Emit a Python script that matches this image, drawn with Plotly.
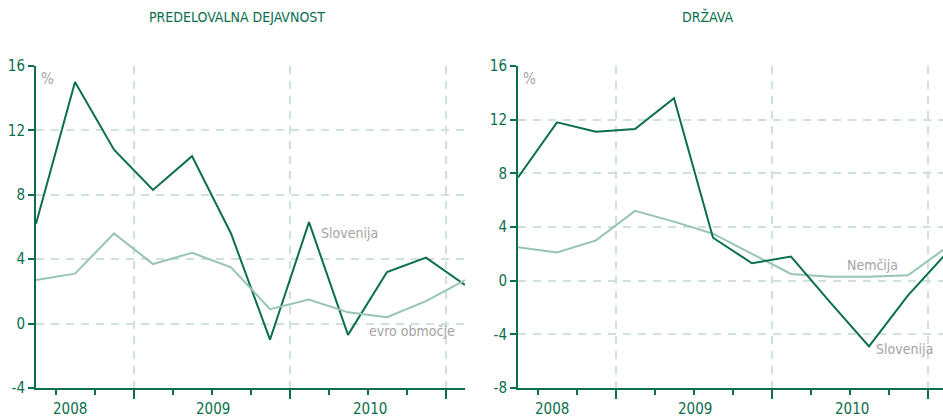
import plotly.graph_objects as go

# ---- data ----
quarters = list(range(12))  # 2008Q2 .. 2011Q1 (quarter index)
man_slovenia = [6.2, 15.0, 10.8, 8.3, 10.4, 5.6, -1.0, 6.3, -0.7, 3.2, 4.1, 2.4]
man_euro = [2.7, 3.1, 5.6, 3.7, 4.4, 3.5, 0.9, 1.5, 0.7, 0.4, 1.4, 2.7]
gov_slovenia = [7.7, 11.8, 11.1, 11.3, 13.6, 3.2, 1.3, 1.8, -1.6, -4.9, -1.1, 2.1]
gov_germany = [2.5, 2.1, 3.0, 5.2, 4.4, 3.5, 2.0, 0.5, 0.3, 0.3, 0.4, 2.5]

year_labels = ["2008", "2009", "2010"]
year_label_pos = [0.87, 4.55, 8.56]
year_bounds = [2.5, 6.5, 10.5]
quarter_bounds = [0.5, 1.5, 3.5, 4.5, 5.5, 7.5, 8.5, 9.5]
left_yticks = [-4, 0, 4, 8, 12, 16]
left_ygrid = [0, 4, 8, 12]
right_yticks = [-8, -4, 0, 4, 8, 12, 16]
right_ygrid = [-4, 0, 4, 8, 12]

DARK = "#0b6e4f"
LIGHT = "#97c5b2"
GRID = "#cfe1d9"
GRAY = "#a3a3a3"
FONT = "DejaVu Sans Condensed, Liberation Sans Narrow, sans-serif"

W, H = 943, 417
fig = go.Figure()

fig.add_trace(go.Scatter(x=quarters, y=man_slovenia, mode="lines", line=dict(color=DARK, width=2),
                         xaxis="x", yaxis="y", showlegend=False))
fig.add_trace(go.Scatter(x=quarters, y=man_euro, mode="lines", line=dict(color=LIGHT, width=2),
                         xaxis="x", yaxis="y", showlegend=False))
fig.add_trace(go.Scatter(x=quarters, y=gov_germany, mode="lines", line=dict(color=LIGHT, width=2),
                         xaxis="x2", yaxis="y2", showlegend=False))
fig.add_trace(go.Scatter(x=quarters, y=gov_slovenia, mode="lines", line=dict(color=DARK, width=2),
                         xaxis="x2", yaxis="y2", showlegend=False))

ydom = [(H - 388) / H, (H - 66) / H]
xdom1 = [36 / W, 465 / W]
xdom2 = [518 / W, 1.0]
xr1 = [0, 11]
xr2 = [0, (943 - 518) / 39.0]


def xaxis_main(dom, rng, anchor):
    return dict(domain=dom, range=rng, anchor=anchor, automargin=False, showline=True, linecolor=DARK,
                linewidth=2, tickmode="array", tickvals=year_bounds, showticklabels=False, ticks="outside",
                ticklen=9, tickwidth=1.5, tickcolor=DARK, showgrid=True, gridcolor=GRID,
                griddash="8px,7px", gridwidth=1.5, zeroline=False, fixedrange=True,
                minor=dict(tickvals=quarter_bounds, ticks="outside", ticklen=5, tickwidth=1.5,
                           tickcolor=DARK, showgrid=False))


def yaxis(rng, ticks, grid, anchor):
    return dict(domain=ydom, range=rng, anchor=anchor, automargin=False, showline=True, linecolor=DARK,
                linewidth=2, tickmode="array", tickvals=ticks, ticktext=[str(t) for t in ticks],
                ticks="outside", ticklen=6, tickwidth=1.5,
                tickcolor=DARK, tickfont=dict(family=FONT, size=15, color=DARK), showgrid=False,
                zeroline=False, fixedrange=True,
                minor=dict(tickvals=grid, showgrid=True, gridcolor=GRID, griddash="8px,7px",
                           gridwidth=1.5, ticks=""))


fig.update_layout(
    width=W, height=H, margin=dict(l=0, r=0, t=0, b=0, autoexpand=False),
    paper_bgcolor="white", plot_bgcolor="white",
    xaxis=xaxis_main(xdom1, xr1, "y"),
    xaxis2=xaxis_main(xdom2, xr2, "y2"),
    yaxis=yaxis([-4, 16], left_yticks, left_ygrid, "x"),
    yaxis2=yaxis([-8, 16], right_yticks, right_ygrid, "x2"),
    font=dict(family=FONT),
)

ann = []
ann.append(dict(text="PREDELOVALNA DEJAVNOST", x=237 / W, y=(H - 17) / H, xref="paper", yref="paper",
                xanchor="center", yanchor="middle", showarrow=False,
                font=dict(family=FONT, size=14, color=DARK)))
ann.append(dict(text="DRŽAVA", x=708 / W, y=(H - 17) / H, xref="paper", yref="paper",
                xanchor="center", yanchor="middle", showarrow=False,
                font=dict(family=FONT, size=14, color=DARK)))
for xr, yr in (("x", "y"), ("x2", "y2")):
    ann.append(dict(text="%", x=0.008, y=0.995, xref=xr + " domain", yref=yr + " domain",
                    xanchor="left", yanchor="top", showarrow=False,
                    font=dict(family=FONT, size=15, color=GRAY)))
    for lab, pos in zip(year_labels, year_label_pos):
        ann.append(dict(text=lab, x=pos, y=-0.066, xref=xr, yref=yr + " domain",
                        xanchor="center", yanchor="middle",
                        showarrow=False, font=dict(family=FONT, size=15, color=DARK)))
ann.append(dict(text="Slovenija", x=8.05, y=5.6, xref="x", yref="y", showarrow=False,
                xanchor="center", yanchor="middle", font=dict(family=FONT, size=14, color=GRAY)))
ann.append(dict(text="evro območje", x=9.63, y=-0.45, xref="x", yref="y", showarrow=False,
                xanchor="center", yanchor="middle", font=dict(family=FONT, size=14, color=GRAY)))
ann.append(dict(text="Nemčija", x=9.1, y=1.2, xref="x2", yref="y2", showarrow=False,
                xanchor="center", yanchor="middle", font=dict(family=FONT, size=14, color=GRAY)))
ann.append(dict(text="Slovenija", x=9.9, y=-5.1, xref="x2", yref="y2", showarrow=False,
                xanchor="center", yanchor="middle", font=dict(family=FONT, size=14, color=GRAY)))
fig.update_layout(annotations=ann)

fig.write_html("out.html", config={"displayModeBar": False},
               post_script="document.body.style.margin='0';document.body.style.overflow='hidden';")
